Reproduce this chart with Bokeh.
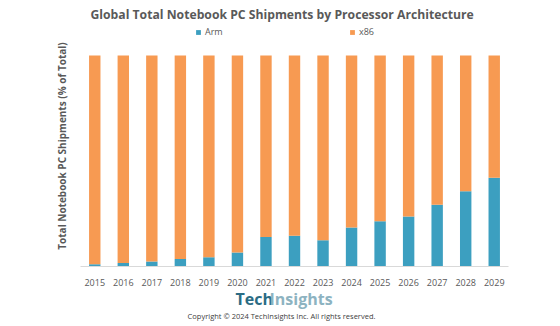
from bokeh.plotting import figure
from bokeh.models import Label, Legend, LegendItem, FixedTicker
from bokeh.layouts import column
from bokeh.embed import file_html
from bokeh.resources import INLINE

years = [2015, 2016, 2017, 2018, 2019, 2020, 2021, 2022, 2023, 2024, 2025, 2026, 2027, 2028, 2029]
arm = [1.1, 1.6, 2.4, 3.5, 4.4, 6.6, 14.0, 14.6, 12.4, 18.5, 21.4, 23.7, 29.2, 35.7, 42.0]
x86 = [100 - a for a in arm]

ARM_C = "#3C9FC0"
X86_C = "#F79A52"
FONT = "Open Sans"
GREY = "#595959"

# frame: x 80..508, y 25..267 ; bars' 100% at y=55
p = figure(width=560, height=288, output_backend="svg", toolbar_location=None,
           x_range=(2014.5, 2029.5), y_range=(0, 100 * 242 / 212),
           min_border_left=80, min_border_right=52, min_border_top=25, min_border_bottom=21,
           title="Global Total Notebook PC Shipments by Processor Architecture")
p.outline_line_color = None
p.grid.grid_line_color = None
p.title.align = "left"
p.title.offset = 10
p.title.standoff = 6
p.title.text_font = FONT
p.title.text_font_size = "12.2px"
p.title.text_color = GREY
p.title.text_font_style = "bold"

data = dict(year=years, arm=arm, x86=x86)
rs = p.vbar_stack(["arm", "x86"], x="year", width=0.4, color=[ARM_C, X86_C],
                  line_color=None, source=data)

ya = p.yaxis[0]
ya.ticker = FixedTicker(ticks=[])
ya.axis_line_color = None
ya.major_tick_line_color = None
ya.minor_tick_line_color = None
ya.axis_label = "Total Notebook PC Shipments (% of Total)"
ya.axis_label_text_font = FONT
ya.axis_label_text_font_size = "10px"
ya.axis_label_text_font_style = "bold"
ya.axis_label_text_color = GREY
ya.axis_label_standoff = 12

xa = p.xaxis[0]
xa.ticker = FixedTicker(ticks=years)
xa.major_tick_line_color = None
xa.minor_tick_line_color = None
xa.axis_line_color = "#d9d9d9"
xa.major_label_text_font = FONT
xa.major_label_text_font_size = "9px"
xa.major_label_text_color = GREY
xa.major_label_standoff = 6

legend = Legend(items=[LegendItem(label="Arm", renderers=[rs[0]]),
                       LegendItem(label="x86", renderers=[rs[1]])],
                orientation="horizontal", location=(115, 228), spacing=124,
                glyph_width=6, glyph_height=6, label_standoff=4,
                label_text_font=FONT, label_text_font_size="9px", label_text_color=GREY,
                padding=0, margin=0, background_fill_alpha=0, border_line_alpha=0,
                label_height=12)
p.add_layout(legend, "center")

# footer with logo and copyright (frame aligned to canvas pixels 80..508)
f = figure(width=560, height=38, output_backend="svg", toolbar_location=None,
           x_range=(80, 508), y_range=(0, 38), min_border_left=80, min_border_right=52,
           min_border_top=0, min_border_bottom=0)
f.outline_line_color = None
f.grid.grid_line_color = None
f.axis.visible = False
f.add_layout(Label(text="Tech", x=235, y=27.5, text_font=FONT, text_font_size="16px",
                   text_color="#2B6C84", text_font_style="bold", text_align="left",
                   text_baseline="middle"))
f.add_layout(Label(text="Insights", x=269, y=27.5, text_font=FONT, text_font_size="16px",
                   text_color="#8DB3C1", text_font_style="bold", text_align="left",
                   text_baseline="middle"))
f.add_layout(Label(text="Copyright \u00a9 2024 TechInsights Inc.  All rights reserved.",
                   x=282, y=11, text_font=FONT, text_font_size="7.5px", text_color="#404040",
                   text_align="center", text_baseline="middle"))

open("out.html", "w").write(file_html(column(p, f), INLINE))
